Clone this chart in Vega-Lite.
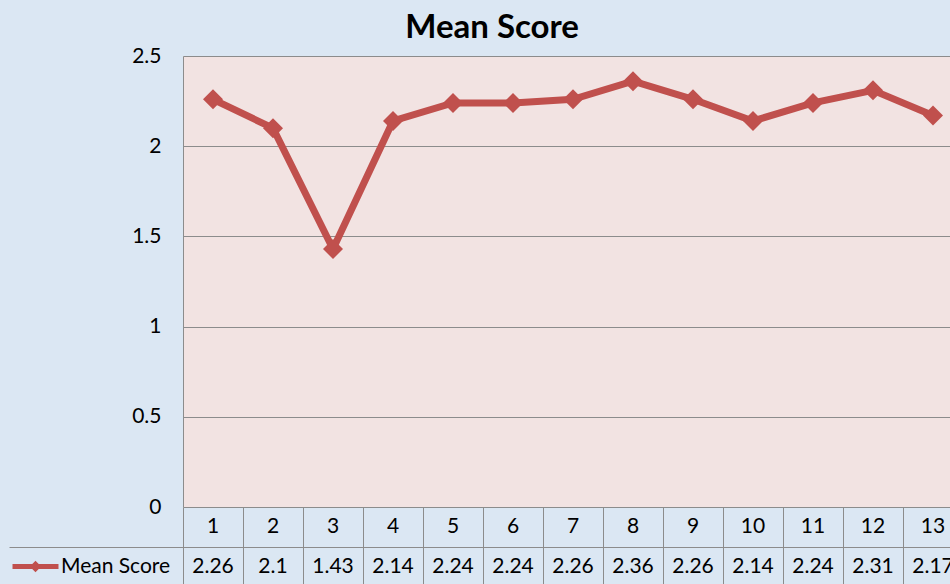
{
  "$schema": "https://vega.github.io/schema/vega-lite/v6.json",
  "background": "#dbe7f3",
  "padding": {"left": 8, "top": 12, "right": 0, "bottom": 0},
  "spacing": 0,
  "bounds": "flush",
  "title": {"text": "Mean Score", "font": "Lato", "fontSize": 33, "fontWeight": "bold", "color": "#000000", "anchor": "middle", "dx": 11, "offset": 0},
  "datasets": {
    "scores": [
      {"item": 1, "score": 2.26, "series": "Mean Score"},
      {"item": 2, "score": 2.1, "series": "Mean Score"},
      {"item": 3, "score": 1.43, "series": "Mean Score"},
      {"item": 4, "score": 2.14, "series": "Mean Score"},
      {"item": 5, "score": 2.24, "series": "Mean Score"},
      {"item": 6, "score": 2.24, "series": "Mean Score"},
      {"item": 7, "score": 2.26, "series": "Mean Score"},
      {"item": 8, "score": 2.36, "series": "Mean Score"},
      {"item": 9, "score": 2.26, "series": "Mean Score"},
      {"item": 10, "score": 2.14, "series": "Mean Score"},
      {"item": 11, "score": 2.24, "series": "Mean Score"},
      {"item": 12, "score": 2.31, "series": "Mean Score"},
      {"item": 13, "score": 2.17, "series": "Mean Score"}
    ]
  },
  "config": {
    "font": "Lato",
    "axis": {"labelFont": "Lato", "labelFontSize": 21, "labelColor": "#000000"},
    "view": {"stroke": null}
  },
  "vconcat": [
    {
      "width": 768,
      "height": 451,
      "view": {"fill": "#f2e3e2", "stroke": null},
      "data": {"name": "scores"},
      "encoding": {
        "x": {"field": "item", "type": "quantitative", "scale": {"domain": [0.5, 13.3], "nice": false, "zero": false}, "axis": null},
        "y": {"field": "score", "type": "quantitative", "scale": {"domain": [0, 2.5], "nice": false},
          "axis": {"values": [0, 0.5, 1, 1.5, 2, 2.5], "format": "~g", "title": null, "ticks": false, "domain": true, "domainColor": "#8c8c8c", "grid": true, "gridColor": "#8c8c8c", "gridOpacity": 1, "labelPadding": 22, "labelFontSize": 21}}
      },
      "layer": [
        {"mark": {"type": "line", "color": "#c0504d", "strokeWidth": 7}},
        {
          "mark": {"type": "point", "shape": "diamond", "size": 400, "filled": true, "opacity": 1},
          "encoding": {
            "color": {"field": "series", "type": "nominal", "scale": {"range": ["#c0504d"]},
              "legend": {"orient": "none", "legendX": -158, "legendY": 500, "title": null, "padding": 0,
                "symbolType": "M-2.2,-0.24L2.2,-0.24L2.2,0.24L-2.2,0.24Z M0,-0.55L0.55,0L0,0.55L-0.55,0Z",
                "symbolSize": 437, "symbolStrokeWidth": 0, "symbolOpacity": 1, "labelFont": "Lato", "labelFontSize": 21, "labelColor": "#000000", "labelOffset": 15}}
          }
        }
      ]
    },
    {
      "width": 768,
      "height": 77,
      "data": {"name": "scores"},
      "encoding": {
        "x": {"field": "item", "type": "quantitative", "scale": {"domain": [0.5, 13.3], "nice": false, "zero": false},
          "axis": {"values": [0.5, 1.5, 2.5, 3.5, 4.5, 5.5, 6.5, 7.5, 8.5, 9.5, 10.5, 11.5, 12.5], "grid": true, "gridColor": "#8c8c8c", "gridOpacity": 1, "labels": false, "ticks": false, "domain": false, "title": null}}
      },
      "layer": [
        {
          "mark": {"type": "text", "font": "Lato", "fontSize": 21, "color": "#000000", "baseline": "middle"},
          "encoding": {
            "y": {"datum": 0.5, "type": "quantitative", "scale": {"domain": [0, 1.925], "reverse": true, "nice": false, "zero": false},
              "axis": {"values": [1], "labels": false, "ticks": true, "tickSize": 174, "tickColor": "#8c8c8c", "grid": true, "gridColor": "#8c8c8c", "gridOpacity": 1, "domain": false, "title": null}},
            "text": {"field": "item", "type": "nominal"}
          }
        },
        {
          "mark": {"type": "text", "font": "Lato", "fontSize": 21, "color": "#000000", "baseline": "middle"},
          "encoding": {
            "y": {"datum": 1.5, "type": "quantitative"},
            "text": {"field": "score", "type": "nominal"}
          }
        }
      ]
    }
  ]
}
